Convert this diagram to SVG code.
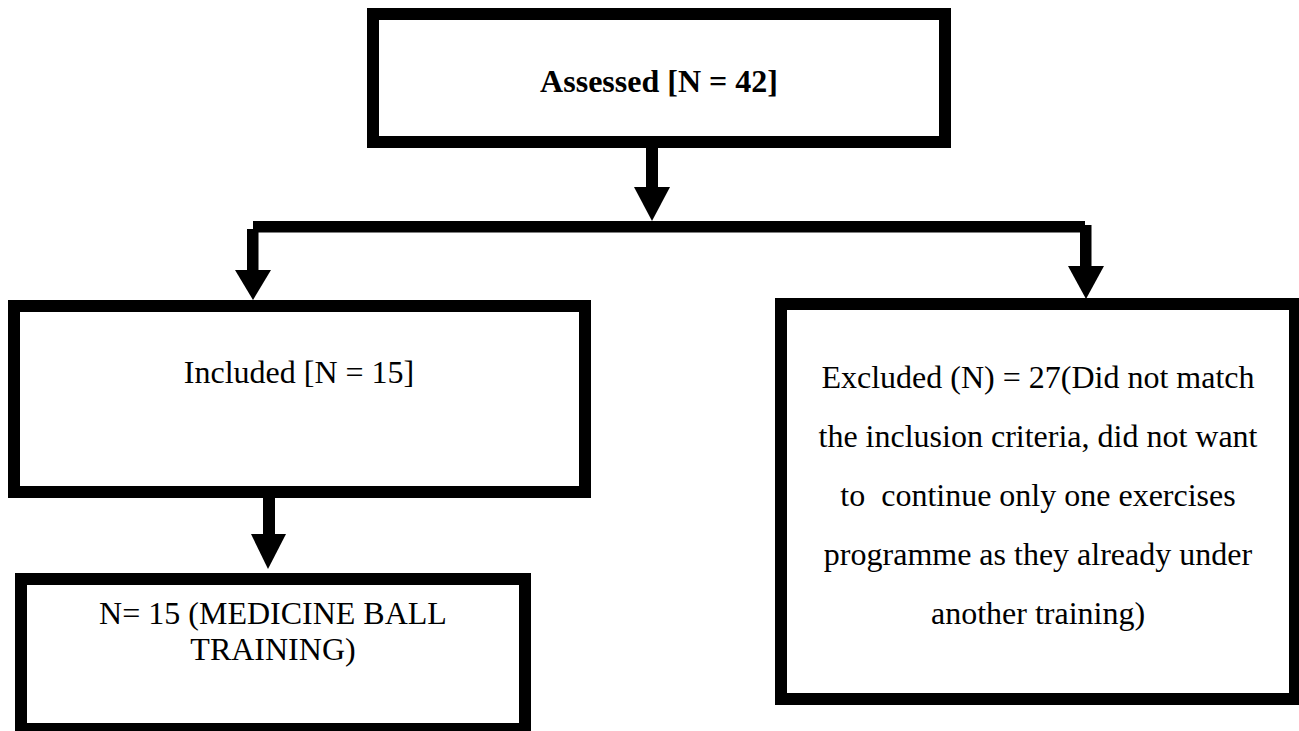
<svg xmlns="http://www.w3.org/2000/svg" width="1299" height="731" viewBox="0 0 1299 731">
<style>
.box{fill:#fff;stroke:#000;stroke-width:12}
.t{font-family:"Liberation Serif","Times New Roman",serif;font-size:32px;fill:#000;text-anchor:middle}
.b{font-weight:bold}
.shaft{fill:#000}
.head{fill:#000}
</style>
<rect width="1299" height="731" fill="#fff"/>
<g id="connectors">
<rect class="shaft" x="646" y="146" width="12" height="43"/>
<polygon class="head" points="634,187 670,187 652,221"/>
<rect class="shaft" x="253" y="221" width="832" height="11.5"/>
<rect class="shaft" x="247" y="229" width="11.5" height="43"/>
<polygon class="head" points="235,270 271,270 253,300"/>
<rect class="shaft" x="1080" y="225" width="11.5" height="43"/>
<polygon class="head" points="1068,266 1104,266 1086,299"/>
<rect class="shaft" x="263" y="496" width="12" height="40"/>
<polygon class="head" points="251,534 286,534 268,569"/>
</g>
<g id="assessed">
<rect class="box" x="373" y="14" width="572" height="128"/>
<text class="t b" x="659" y="92">Assessed [N = 42]</text>
</g>
<g id="included">
<rect class="box" x="14" y="306" width="571" height="186"/>
<text class="t" x="299" y="383">Included [N = 15]</text>
</g>
<g id="medicine">
<rect class="box" x="21" y="579" width="504" height="150"/>
<text class="t" x="273" y="624">N= 15 (MEDICINE BALL</text>
<text class="t" x="273" y="660">TRAINING)</text>
</g>
<g id="excluded">
<rect class="box" x="781" y="304" width="514" height="395"/>
<text class="t" x="1038" y="388">Excluded (N) = 27(Did not match</text>
<text class="t" x="1038" y="447">the inclusion criteria, did not want</text>
<text class="t" x="1038" y="506" xml:space="preserve" style="white-space:pre">to  continue only one exercises</text>
<text class="t" x="1038" y="565">programme as they already under</text>
<text class="t" x="1038" y="624">another training)</text>
</g>
</svg>
